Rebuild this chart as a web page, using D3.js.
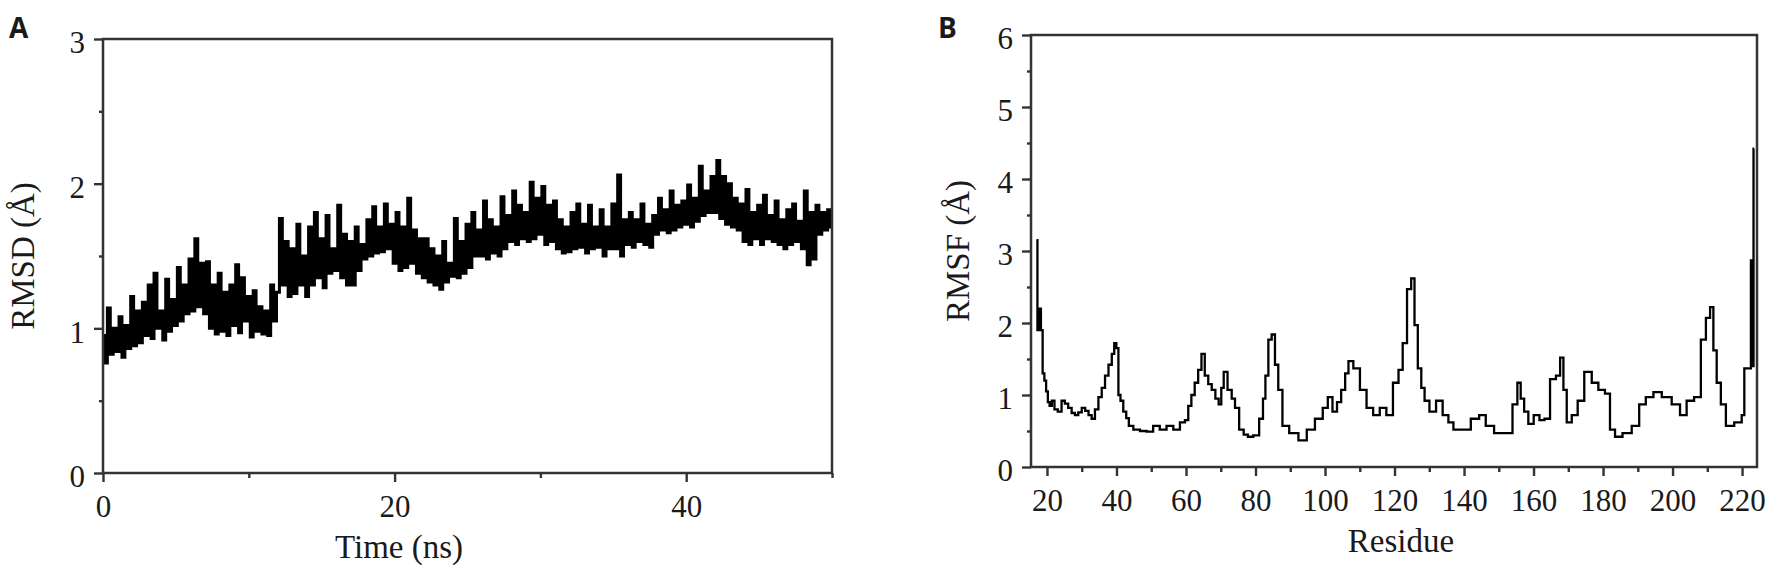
<!DOCTYPE html>
<html>
<head>
<meta charset="utf-8">
<script src="https://cdn.jsdelivr.net/npm/d3@7"></script>
<style>
  body { margin: 0; background: #fff; }
  svg text { fill: #1a1a1a; }
</style>
</head>
<body>
<svg id="chart" width="1790" height="567"></svg>
<script>
// ---- data ----
// panel A: backbone RMSD, one sample every 0.2 ns from 0 to 50 ns
var timeStep = 0.2;
var rmsd = [
  0.95, 0.76, 1.14, 0.82, 1.00,   0.84, 1.08, 0.80, 1.02, 0.86,
  1.22, 0.88, 1.12, 0.90, 1.18,   0.95, 1.30, 0.93, 1.38, 1.00,
  1.12, 0.92, 1.34, 0.98, 1.20,   1.02, 1.42, 1.05, 1.30, 1.10,
  1.48, 1.12, 1.62, 1.15, 1.45,   1.10, 1.46, 1.00, 1.30, 0.96,
  1.38, 0.98, 1.25, 0.95, 1.30,   1.02, 1.44, 0.97, 1.35, 1.05,
  1.22, 0.94, 1.26, 0.98, 1.15,   0.96, 1.12, 0.95, 1.30, 1.05,
  1.25, 1.76, 1.30, 1.60, 1.22,   1.55, 1.24, 1.72, 1.30, 1.50,
  1.22, 1.70, 1.30, 1.80, 1.35,   1.62, 1.28, 1.78, 1.38, 1.55,
  1.40, 1.85, 1.35, 1.65, 1.30,   1.60, 1.30, 1.70, 1.40, 1.58,
  1.48, 1.75, 1.50, 1.84, 1.52,   1.70, 1.53, 1.86, 1.55, 1.72,
  1.45, 1.80, 1.40, 1.70, 1.42,   1.90, 1.45, 1.68, 1.38, 1.62,
  1.35, 1.62, 1.32, 1.55, 1.30,   1.50, 1.27, 1.60, 1.32, 1.45,
  1.36, 1.76, 1.35, 1.60, 1.38,   1.72, 1.42, 1.80, 1.50, 1.68,
  1.50, 1.88, 1.48, 1.75, 1.52,   1.70, 1.50, 1.91, 1.55, 1.78,
  1.60, 1.95, 1.58, 1.85, 1.62,   1.80, 1.60, 2.01, 1.62, 1.90,
  1.65, 1.98, 1.58, 1.85, 1.60,   1.88, 1.55, 1.75, 1.52, 1.70,
  1.53, 1.80, 1.55, 1.86, 1.56,   1.72, 1.52, 1.85, 1.55, 1.70,
  1.56, 1.82, 1.50, 1.70, 1.55,   1.86, 1.55, 2.06, 1.50, 1.75,
  1.58, 1.80, 1.56, 1.75, 1.60,   1.86, 1.58, 1.72, 1.56, 1.78,
  1.65, 1.90, 1.68, 1.82, 1.66,   1.95, 1.68, 1.85, 1.70, 1.88,
  1.72, 1.99, 1.70, 1.90, 1.74,   2.12, 1.78, 1.95, 1.80, 2.05,
  1.80, 2.16, 1.76, 2.05, 1.72,   2.00, 1.70, 1.90, 1.68, 1.86,
  1.60, 1.96, 1.58, 1.80, 1.62,   1.85, 1.58, 1.92, 1.62, 1.78,
  1.60, 1.88, 1.58, 1.75, 1.55,   1.82, 1.58, 1.86, 1.60, 1.74,
  1.55, 1.95, 1.44, 1.80, 1.48,   1.85, 1.65, 1.80, 1.68, 1.82,
  1.70
];

// panel B: per-residue RMSF
var residue = [
  17.0, 17.5, 18.0, 18.5, 19.0, 19.5, 20.0, 20.5, 21.0, 21.8, 22.5, 23.7, 24.7, 25.6, 26.6,
  27.6, 28.5, 29.5, 30.5, 31.5, 32.4, 33.3, 34.3, 35.3, 36.2, 37.2, 38.2, 39.1, 39.6, 40.3,
  40.8, 41.5, 42.4, 43.2, 43.9, 45.8, 47.7, 49.6, 51.5, 53.4, 55.4, 57.3, 59.2, 60.2, 61.1,
  62.0, 63.0, 64.0, 64.9, 65.9, 66.9, 67.9, 69.0, 69.8, 70.5, 71.2, 72.7, 73.6, 74.6, 76.0,
  77.2, 78.4, 80.3, 81.8, 82.5, 83.2, 84.2, 85.1, 86.1, 87.0, 88.5, 90.9, 93.8, 95.7, 98.5,
  100.2, 101.4, 102.9, 104.0, 105.3, 106.3, 107.2, 109.1, 111.0, 112.9, 114.8, 116.7, 118.6, 120.5, 121.8,
  122.9, 124.3, 125.3, 126.2, 127.2, 128.2, 129.1, 131.0, 132.9, 134.8, 136.2, 137.7, 140.5, 143.4, 145.3,
  147.2, 150.1, 153.0, 154.9, 155.8, 156.8, 157.8, 159.2, 160.9, 162.5, 163.8, 165.7, 167.2, 168.1, 169.1,
  170.0, 172.0, 173.4, 175.8, 177.7, 179.6, 181.5, 182.5, 184.4, 186.8, 189.7, 191.1, 193.5, 195.5, 198.3,
  201.2, 203.1, 205.0, 207.4, 208.9, 210.3, 211.3, 212.2, 213.2, 214.6, 216.1, 219.4, 220.4, 220.9, 222.3,
  222.8, 223.1, 223.5
];
var rmsf = [
  3.15, 1.90, 2.20, 1.90, 1.30, 1.20, 1.05, 0.90, 0.85, 0.92, 0.80, 0.77, 0.92, 0.88, 0.82,
  0.75, 0.72, 0.76, 0.82, 0.78, 0.72, 0.67, 0.80, 0.97, 1.10, 1.27, 1.42, 1.57, 1.72, 1.65,
  1.00, 0.92, 0.77, 0.68, 0.57, 0.52, 0.50, 0.49, 0.57, 0.52, 0.57, 0.52, 0.62, 0.65, 0.85,
  1.00, 1.17, 1.35, 1.57, 1.27, 1.15, 1.07, 0.95, 0.87, 1.10, 1.32, 1.07, 0.95, 0.82, 0.52,
  0.45, 0.42, 0.44, 0.67, 0.95, 1.27, 1.77, 1.84, 1.42, 1.07, 0.57, 0.47, 0.37, 0.52, 0.67,
  0.82, 0.97, 0.77, 0.90, 1.07, 1.30, 1.47, 1.37, 1.07, 0.82, 0.72, 0.82, 0.72, 1.17, 1.35,
  1.72, 2.47, 2.62, 1.97, 1.37, 1.10, 0.92, 0.77, 0.92, 0.72, 0.62, 0.52, 0.52, 0.67, 0.72,
  0.57, 0.47, 0.47, 0.87, 1.17, 0.95, 0.77, 0.60, 0.72, 0.65, 0.67, 1.22, 1.27, 1.52, 1.07,
  0.62, 0.72, 0.92, 1.32, 1.17, 1.07, 1.02, 0.52, 0.42, 0.47, 0.57, 0.87, 0.97, 1.04, 0.97,
  0.87, 0.72, 0.92, 0.97, 1.77, 2.07, 2.22, 1.62, 1.17, 0.87, 0.57, 0.62, 0.72, 1.37, 1.37,
  2.87, 1.40, 4.42
];

var rmsdTicks = [0, 1, 2, 3], rmsdMinor = [0.5, 1.5, 2.5];
var timeTicks = [0, 20, 40], timeMinor = [10, 30, 50];
var rmsfTicks = [0, 1, 2, 3, 4, 5, 6], rmsfMinor = [0.5, 1.5, 2.5, 3.5, 4.5, 5.5];
var residueTicks = [20, 40, 60, 80, 100, 120, 140, 160, 180, 200, 220];
var residueMinor = [30, 50, 70, 90, 110, 130, 150, 170, 190, 210];

var svg = d3.select("#chart");
var serif = "'Liberation Serif', 'Times New Roman', serif";

function drawPanel(p) {
    var g = svg.append("g")
        .attr("transform", "translate(" + p.left + "," + p.top + ")");

    var x = d3.scaleLinear().domain(p.xDomain).range([0, p.width]);
    var y = d3.scaleLinear().domain(p.yDomain).range([p.height, 0]);

    // minor ticks first, majors on top
    g.append("g").attr("class", "axis")
        .attr("transform", "translate(0," + p.height + ")")
        .call(d3.axisBottom(x).tickValues(p.xMinor).tickSize(5).tickFormat(""));
    g.append("g").attr("class", "axis")
        .call(d3.axisLeft(y).tickValues(p.yMinor).tickSize(4).tickFormat(""));

    g.append("g").attr("class", "axis xmajor")
        .attr("transform", "translate(0," + p.height + ")")
        .call(d3.axisBottom(x).tickValues(p.xTicks).tickSize(9).tickPadding(13)
            .tickFormat(d3.format("d")));
    g.append("g").attr("class", "axis ymajor")
        .call(d3.axisLeft(y).tickValues(p.yTicks).tickSize(9).tickPadding(9)
            .tickFormat(d3.format("d")));

    g.selectAll(".axis .domain").remove();
    g.selectAll(".axis .tick line").attr("stroke", "#333").attr("stroke-width", 2.4);
    g.selectAll(".axis .tick text")
        .style("font-family", serif)
        .style("font-size", "31px")
        .attr("fill", "#1a1a1a");
    g.selectAll(".ymajor .tick text").attr("dy", "0.45em");

    // data line, clipped to the frame
    var clipId = "clip-" + p.name;
    g.append("clipPath").attr("id", clipId)
        .append("rect").attr("width", p.width).attr("height", p.height);

    var line = d3.line()
        .x(function(d) { return x(d[0]); })
        .y(function(d) { return y(d[1]); })
        .curve(p.curve);

    g.append("path")
        .datum(p.points)
        .attr("clip-path", "url(#" + clipId + ")")
        .attr("fill", "none")
        .attr("stroke", "#000")
        .attr("stroke-width", p.lineWidth)
        .attr("stroke-linejoin", "miter")
        .attr("d", line);

    // frame
    g.append("rect")
        .attr("width", p.width)
        .attr("height", p.height)
        .attr("fill", "none")
        .attr("stroke", "#333")
        .attr("stroke-width", 2.5);

    // axis titles
    svg.append("text")
        .attr("x", p.xTitleX)
        .attr("y", p.top + p.height + 85)
        .attr("text-anchor", "middle")
        .style("font-family", serif)
        .style("font-size", "33px")
        .text(p.xTitle);

    svg.append("text")
        .attr("transform", "translate(" + p.yTitleX + "," + (p.top + p.height / 2) + ") rotate(-90)")
        .attr("text-anchor", "middle")
        .style("font-family", serif)
        .style("font-size", "33px")
        .text(p.yTitle);

    // panel letter
    svg.append("text")
        .attr("x", p.letterX)
        .attr("y", 38)
        .style("font-family", "'Open Sans', 'DejaVu Sans', sans-serif")
        .style("font-weight", 700)
        .style("font-size", "28px")
        .text(p.name);
}

drawPanel({
    name: "A",
    left: 103, top: 39, width: 729, height: 434,
    xDomain: [0, 50], yDomain: [0, 3],
    xTicks: timeTicks, xMinor: timeMinor,
    yTicks: rmsdTicks, yMinor: rmsdMinor,
    points: rmsd.map(function(v, i) { return [i * timeStep, v]; }),
    curve: d3.curveStep, lineWidth: 3,
    xTitle: "Time (ns)", xTitleX: 399,
    yTitle: "RMSD (Å)", yTitleX: 34,
    letterX: 9
});

drawPanel({
    name: "B",
    left: 1031, top: 35, width: 726, height: 432,
    xDomain: [15.4, 224.3], yDomain: [0, 6],
    xTicks: residueTicks, xMinor: residueMinor,
    yTicks: rmsfTicks, yMinor: rmsfMinor,
    points: residue.map(function(r, i) { return [r, rmsf[i]]; }),
    curve: d3.curveStep, lineWidth: 2.3,
    xTitle: "Residue", xTitleX: 1401,
    yTitle: "RMSF (Å)", yTitleX: 969,
    letterX: 938
});
</script>
</body>
</html>
